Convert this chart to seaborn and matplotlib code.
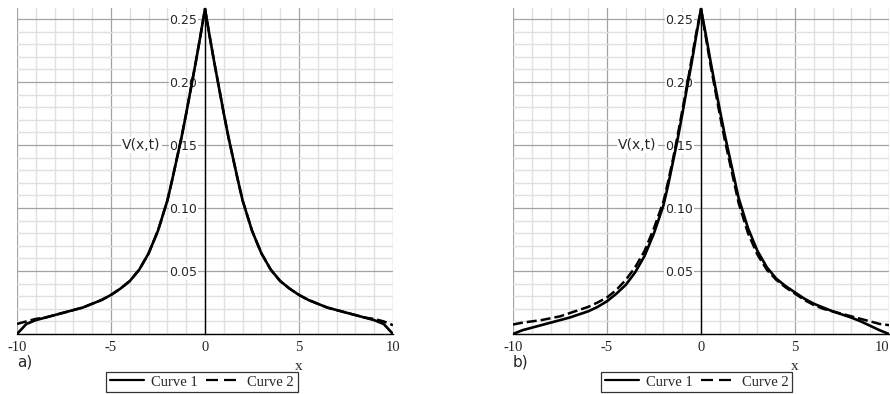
import numpy as np
import pandas as pd
import seaborn as sns
import matplotlib.pyplot as plt
from matplotlib.ticker import MultipleLocator

# sample points along x (denser near the peak)
x = [-10, -9.5, -9, -8.5, -8, -7.5, -7, -6.5, -6, -5.5, -5, -4.5, -4, -3.5, -3, -2.5,
     -2, -1.75, -1.5, -1.25, -1, -0.75, -0.5, -0.25, 0, 0.25, 0.5, 0.75, 1, 1.25,
     1.5, 1.75, 2, 2.5, 3, 3.5, 4, 4.5, 5, 5.5, 6, 6.5, 7, 7.5, 8, 8.5, 9, 9.5, 10]

# panel a)
a_curve1 = [0.000, 0.008, 0.011, 0.013, 0.015, 0.017, 0.019, 0.021, 0.024, 0.027, 0.031,
            0.036, 0.042, 0.051, 0.064, 0.082, 0.106, 0.122, 0.139, 0.156, 0.175, 0.195,
            0.215, 0.236, 0.258, 0.236, 0.215, 0.195, 0.175, 0.156, 0.139, 0.122, 0.106,
            0.082, 0.064, 0.051, 0.042, 0.036, 0.031, 0.027, 0.024, 0.021, 0.019, 0.017,
            0.015, 0.013, 0.011, 0.008, 0.000]
a_curve2 = [0.008, 0.010, 0.012, 0.013, 0.015, 0.017, 0.019, 0.021, 0.024, 0.027, 0.031,
            0.036, 0.042, 0.051, 0.064, 0.082, 0.106, 0.122, 0.139, 0.156, 0.175, 0.195,
            0.215, 0.236, 0.258, 0.236, 0.215, 0.195, 0.175, 0.156, 0.139, 0.122, 0.106,
            0.082, 0.064, 0.051, 0.042, 0.036, 0.031, 0.027, 0.024, 0.021, 0.019, 0.017,
            0.015, 0.013, 0.012, 0.010, 0.007]

# panel b)
b_curve1 = [0.000, 0.003, 0.005, 0.007, 0.009, 0.011, 0.013, 0.0155, 0.018, 0.0215, 0.026,
            0.032, 0.039, 0.049, 0.062, 0.080, 0.102, 0.118, 0.136, 0.154, 0.174, 0.195,
            0.215, 0.237, 0.258, 0.238, 0.217, 0.197, 0.178, 0.159, 0.142, 0.125, 0.108,
            0.084, 0.066, 0.053, 0.044, 0.038, 0.033, 0.028, 0.024, 0.021, 0.018, 0.0155,
            0.013, 0.010, 0.0065, 0.003, 0.000]
b_curve2 = [0.0075, 0.009, 0.010, 0.011, 0.0125, 0.014, 0.0165, 0.019, 0.0215, 0.025, 0.029,
            0.035, 0.043, 0.053, 0.066, 0.084, 0.105, 0.121, 0.138, 0.157, 0.177, 0.197,
            0.218, 0.239, 0.258, 0.236, 0.214, 0.194, 0.174, 0.155, 0.138, 0.121, 0.104,
            0.080, 0.063, 0.051, 0.043, 0.037, 0.032, 0.027, 0.023, 0.020, 0.018, 0.016,
            0.014, 0.012, 0.010, 0.008, 0.007]

x_ticks = [-10, -5, 0, 5, 10]
x_tick_labels = ['-10', '-5', '0', '5', '10']
y_ticks = [0.05, 0.10, 0.15, 0.20, 0.25]
y_tick_labels = ['0.05', '0.10', '0.15', '0.20', '0.25']
curve_names = ['Curve 1', 'Curve 2']
panel_tags = ['a)', 'b)']

sns.set_style('white')
plt.rcParams['font.family'] = ['DejaVu Sans']

fig = plt.figure(figsize=(8.9, 3.94), dpi=100)
ax_a = fig.add_axes([17 / 890, 60 / 394, 376 / 890, 326 / 394])
ax_b = fig.add_axes([513 / 890, 60 / 394, 376 / 890, 326 / 394])

serif = 'Liberation Serif'
panels = [(ax_a, a_curve1, a_curve2, panel_tags[0], 0.492),
          (ax_b, b_curve1, b_curve2, panel_tags[1], 0.489)]

for ax, c1, c2, tag, leg_x in panels:
    sns.lineplot(x=x, y=c1, color='black', lw=1.9, ax=ax, label=curve_names[0], zorder=3)
    sns.lineplot(x=x, y=c2, color='black', lw=1.8, linestyle=(0, (4, 1.6)),
                 ax=ax, label=curve_names[1], zorder=3)

    ax.set_xlim(-10, 10)
    ax.set_ylim(0, 0.2587)
    ax.set_xlabel('')
    ax.set_ylabel('')

    # maple-like axes crossing at the origin
    ax.spines['left'].set_position(('data', 0))
    ax.spines['bottom'].set_position(('data', 0))
    ax.spines['top'].set_visible(False)
    ax.spines['right'].set_visible(False)
    for s in ['left', 'bottom']:
        ax.spines[s].set_color('black')
        ax.spines[s].set_linewidth(1.0)

    ax.set_xticks(x_ticks)
    ax.set_xticklabels(x_tick_labels)
    ax.set_yticks(y_ticks)
    ax.set_yticklabels(y_tick_labels)
    ax.xaxis.set_minor_locator(MultipleLocator(1))
    ax.yaxis.set_minor_locator(MultipleLocator(0.01))

    ax.tick_params(axis='x', which='both', direction='in', color='black',
                   labelsize=10.5, pad=5, labelfontfamily=serif)
    ax.tick_params(axis='x', which='major', length=5)
    ax.tick_params(axis='x', which='minor', length=3.5)
    ax.tick_params(axis='y', which='both', direction='inout', color='black',
                   labelsize=9, pad=3)
    ax.tick_params(axis='y', which='major', length=5)
    ax.tick_params(axis='y', which='minor', length=3.5)

    ax.set_axisbelow(True)
    ax.grid(which='major', color='#a3a3a3', lw=0.9)
    ax.grid(which='minor', color='#e0e0e0', lw=1.0)

    for lbl in ax.get_yticklabels():
        lbl.set_bbox(dict(facecolor='white', edgecolor='none', pad=0.6))

    ax.text(-2.35, 0.15, 'V(x,t)', ha='right', va='center', fontsize=10,
            bbox=dict(facecolor='white', edgecolor='none', pad=0.8), zorder=2)
    ax.annotate('x', xy=(5, 0), xytext=(0, -33), textcoords='offset pixels',
                ha='center', va='center', fontsize=11, family=serif)
    ax.annotate(tag, xy=(-10, 0), xytext=(0, -28), textcoords='offset pixels',
                ha='left', va='center', fontsize=11)

    leg = ax.legend(loc='center', bbox_to_anchor=(leg_x, -0.147), ncol=2,
                    frameon=True, fancybox=False, edgecolor='black',
                    prop={'family': serif, 'size': 10.5}, handlelength=2.3,
                    handletextpad=0.5, columnspacing=0.6, borderpad=0.25,
                    borderaxespad=0)
    leg.get_frame().set_linewidth(0.9)
    handles = leg.get_lines()
    handles[0].set_linewidth(1.6)
    handles[1].set_linewidth(1.6)
    handles[1].set_linestyle((0, (5.4, 2.7)))

# keep the last tick label of panel b inside the figure
ax_b.get_xticklabels()[-1].set_horizontalalignment('right')

fig.savefig('out.png', dpi=100)
